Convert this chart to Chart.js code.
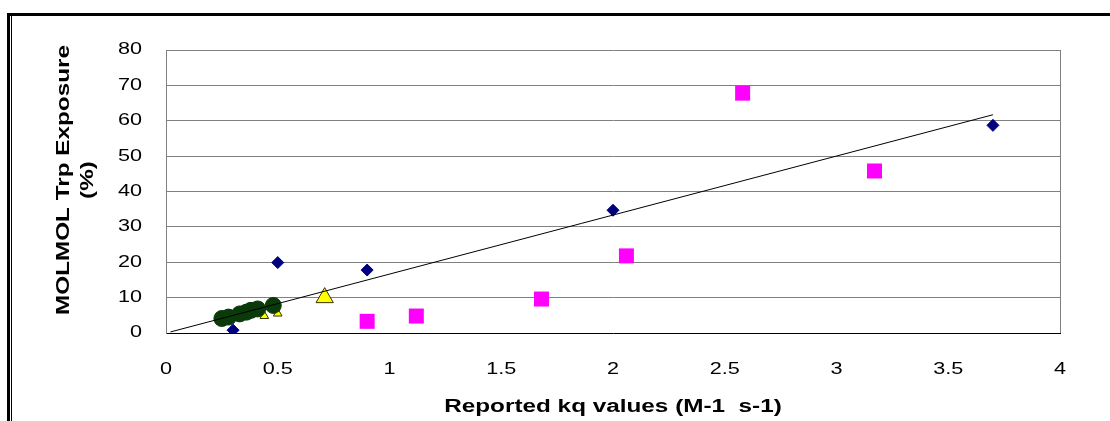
<!DOCTYPE html>
<html>
<head>
<meta charset="utf-8">
<script src="https://cdn.jsdelivr.net/npm/chart.js@4.4.0/dist/chart.umd.min.js"></script>
<style>
  html, body { margin: 0; padding: 0; background: #fff; }
  canvas { display: block; }
</style>
</head>
<body>
<canvas id="kqChart" width="1110" height="421"></canvas>
<script>
// Series read as (kq, exposure %) pairs
const diamondX = [0.30, 0.50, 0.90, 2.00, 3.70];
const diamondY = [0.8, 19.9, 17.8, 34.7, 58.7];

const squareX = [0.90, 1.12, 1.68, 2.06, 2.58, 3.17];
const squareY = [3.3, 4.8, 9.6, 21.8, 67.8, 45.8];

const triangleX = [0.44, 0.50, 0.71];
const triangleY = [4.8, 5.5, 10.0];

const circleX = [0.25, 0.28, 0.33, 0.36, 0.38, 0.41, 0.48];
const circleY = [4.1, 4.5, 5.4, 5.9, 6.4, 6.8, 7.8];

// linear trend, drawn between its two end points
const trendX = [0.02, 3.70];
const trendY = [0.3, 61.7];

const xTicks = [0, 0.5, 1, 1.5, 2, 2.5, 3, 3.5, 4];
const yTicks = [0, 10, 20, 30, 40, 50, 60, 70, 80];

const X_TITLE = 'Reported kq values (M-1  s-1)';
const Y_TITLE = ['MOLMOL Trp Exposure', '(%)'];

const triangleSizes = [5, 5, 10];

// text in this figure is drawn wide
const STRETCH = 1.35;
const FONT_FAMILY = '"Liberation Sans", Arial, sans-serif';

const pares = (xs, ys) => xs.map((x, i) => ({ x: x, y: ys[i] }));

function textoLargo(ctx, text, x, y, align, rot) {
  ctx.save();
  ctx.translate(x, y);
  if (rot) ctx.rotate(rot);
  ctx.scale(STRETCH, 1);
  ctx.textAlign = align;
  ctx.fillText(text, 0, 0);
  ctx.restore();
}

// outer frame lines
const moldura = {
  id: 'moldura',
  beforeDraw(chart) {
    const ctx = chart.ctx;
    ctx.save();
    ctx.fillStyle = '#fff';
    ctx.fillRect(0, 0, chart.width, chart.height);
    ctx.fillStyle = '#000';
    ctx.fillRect(7, 13, chart.width - 7, 3);
    ctx.fillRect(7, 13, 3, chart.height - 13);
    ctx.fillRect(11, 16, 1, chart.height - 16);
    ctx.restore();
  }
};

// tick labels and axis titles
const rotulos = {
  id: 'rotulos',
  afterDraw(chart) {
    const ctx = chart.ctx;
    const { x, y } = chart.scales;
    const area = chart.chartArea;
    ctx.save();
    ctx.fillStyle = '#000';
    ctx.font = '16px ' + FONT_FAMILY;
    ctx.textBaseline = 'middle';
    y.ticks.forEach(t => textoLargo(ctx, String(t.value), area.left - 24, y.getPixelForValue(t.value), 'right'));
    x.ticks.forEach(t => textoLargo(ctx, String(t.value), x.getPixelForValue(t.value), area.bottom + 37, 'center'));

    ctx.font = 'bold 18px ' + FONT_FAMILY;
    ctx.textBaseline = 'alphabetic';
    textoLargo(ctx, X_TITLE, (area.left + area.right) / 2, 411.5, 'center');
    textoLargo(ctx, Y_TITLE[0], 68.5, 180, 'center', -Math.PI / 2);
    textoLargo(ctx, Y_TITLE[1], 93, 180, 'center', -Math.PI / 2);
    ctx.restore();
  }
};

new Chart(document.getElementById('kqChart'), {
  type: 'scatter',
  data: {
    datasets: [
      {
        label: 'trend',
        data: pares(trendX, trendY),
        showLine: true,
        borderColor: '#000',
        borderWidth: 1,
        pointRadius: 0
      },
      {
        label: 'diamonds',
        data: pares(diamondX, diamondY),
        pointStyle: 'rectRot',
        pointRadius: 6,
        backgroundColor: '#000080',
        borderColor: '#000080',
        borderWidth: 1
      },
      {
        label: 'circles',
        data: pares(circleX, circleY),
        pointStyle: 'circle',
        pointRadius: 8,
        backgroundColor: '#0a3a0a',
        borderColor: '#0a3a0a',
        borderWidth: 1
      },
      {
        label: 'triangles',
        data: pares(triangleX, triangleY),
        pointStyle: 'triangle',
        pointRadius: triangleSizes,
        backgroundColor: '#ffff00',
        borderColor: '#333300',
        borderWidth: 1
      },
      {
        label: 'squares',
        data: pares(squareX, squareY),
        pointStyle: 'rect',
        pointRadius: 10.6,
        backgroundColor: '#ff00ff',
        borderColor: '#ff00ff',
        borderWidth: 0
      }
    ]
  },
  options: {
    responsive: false,
    animation: false,
    layout: { padding: { top: 50, right: 50, left: 0, bottom: 0 } },
    plugins: {
      legend: { display: false },
      tooltip: { enabled: false }
    },
    scales: {
      x: {
        type: 'linear',
        min: xTicks[0],
        max: xTicks[xTicks.length - 1],
        afterBuildTicks: s => { s.ticks = xTicks.map(v => ({ value: v })); },
        afterFit: s => { s.height = 88; },
        ticks: { display: false },
        grid: {
          drawTicks: false,
          color: c => (c.tick && c.tick.value === 4) ? '#808080' : 'rgba(0,0,0,0)'
        },
        border: { color: '#000', width: 1 }
      },
      y: {
        type: 'linear',
        min: yTicks[0],
        max: yTicks[yTicks.length - 1],
        afterBuildTicks: s => { s.ticks = yTicks.map(v => ({ value: v })); },
        afterFit: s => { s.width = 166; },
        ticks: { display: false },
        grid: {
          drawTicks: false,
          color: c => (c.tick && c.tick.value === 0) ? 'rgba(0,0,0,0)' : '#808080'
        },
        border: { color: '#808080', width: 1 }
      }
    }
  },
  plugins: [moldura, rotulos]
});
</script>
</body>
</html>
